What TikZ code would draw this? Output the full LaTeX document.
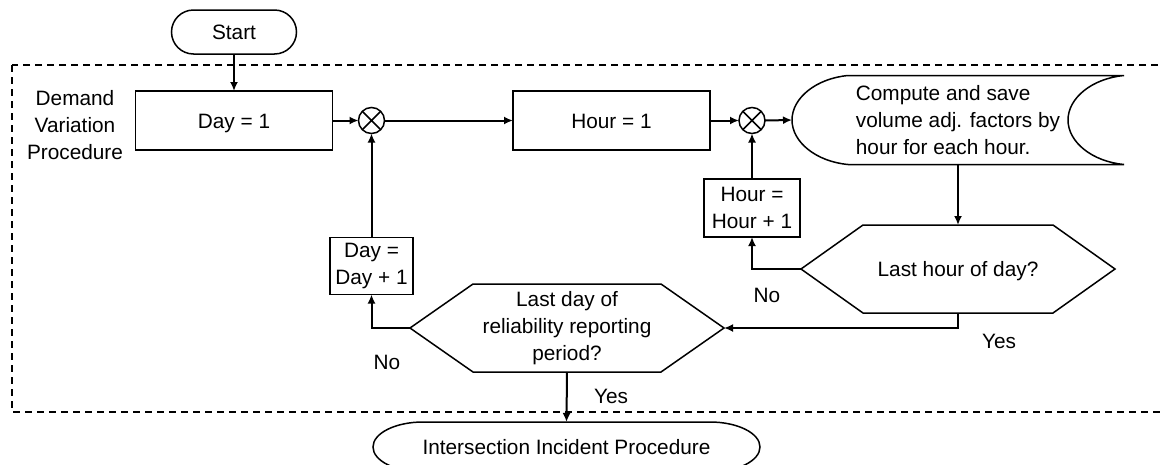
\documentclass[tikz,border=0pt]{standalone}
\usepackage{fontspec}
\setmainfont{Liberation Sans}
\usetikzlibrary{arrows.meta,calc}
\begin{document}
\begin{tikzpicture}[x=1pt,y=-1pt,
  every node/.style={font=\fontsize{20.8pt}{27pt}\selectfont, outer sep=0pt, inner sep=0pt},
  oneline/.style={text height=15pt, text depth=0pt},
  shapeline/.style={line width=1.5pt, line join=miter},
  stepbox/.style={draw, shapeline, rectangle, align=center},
  flow/.style={line width=2pt, -{Latex[length=9pt,width=8pt]}},
  joinpt/.style={draw, shapeline, circle, minimum size=26pt,
    path picture={\draw[shapeline]
      (path picture bounding box.north west) -- (path picture bounding box.south east)
      (path picture bounding box.north east) -- (path picture bounding box.south west);}},
  frame/.style={line width=1.5pt, dash pattern=on 7pt off 5pt}
]
\useasboundingbox (0,0) rectangle (1163,464);

% dashed frame of the demand variation procedure
\draw[frame] (12,65) rectangle (1180,412);

% terminals and process boxes
\node[stepbox, oneline, rounded corners=22pt, minimum width=125pt, minimum height=44pt] (start) at (234,32) {Start};
\node[stepbox, oneline, minimum width=197pt, minimum height=59pt] (day1) at (234,120.5) {Day = 1};
\node[align=center] (dvp) at (75,125) {Demand\\Variation\\Procedure};
\node[joinpt] (c1) at (371.5,120.5) {};
\node[stepbox, oneline, minimum width=197pt, minimum height=59pt] (hour1) at (611.5,120.5) {Hour = 1};
\node[joinpt] (c2) at (752,120.5) {};

% stored data shape
\node[align=left, minimum width=332pt, minimum height=89pt] (cmp) at (958,120)
  {Compute and save\\volume adj. factors by\\hour for each hour.};
\draw[shapeline] ($(cmp.north west)+(56,0)$)
  .. controls ($(cmp.north west)+(24,3)$) and ($(cmp.west)+(0,-22)$) .. (cmp.west)
  .. controls ($(cmp.west)+(0,22)$) and ($(cmp.south west)+(24,-3)$) .. ($(cmp.south west)+(56,0)$)
  -- (cmp.south east)
  .. controls ($(cmp.south east)+(-32,-3)$) and ($(cmp.east)+(-56,22)$) .. ($(cmp.east)+(-56,0)$)
  .. controls ($(cmp.east)+(-56,-22)$) and ($(cmp.north east)+(-32,3)$) .. (cmp.north east)
  -- cycle;

% counters
\node[stepbox, minimum width=96pt, minimum height=58pt] (hinc) at (752,208) {Hour =\\Hour + 1};
\node[stepbox, minimum width=83pt, minimum height=57pt] (dinc) at (371.5,266) {Day =\\Day + 1};

% decisions
\node[align=center, oneline, minimum width=314pt, minimum height=88pt] (h1) at (958,269) {Last hour of day?};
\draw[shapeline] (h1.west) -- ($(h1.north west)+(62,0)$) -- ($(h1.north east)+(-62,0)$) -- (h1.east)
  -- ($(h1.south east)+(-62,0)$) -- ($(h1.south west)+(62,0)$) -- cycle;
\node[align=center, minimum width=314pt, minimum height=88pt] (h2) at (567,328)
  {Last day of\\reliability reporting\\period?};
\draw[shapeline] (h2.west) -- ($(h2.north west)+(63,0)$) -- ($(h2.north east)+(-63,0)$) -- (h2.east)
  -- ($(h2.south east)+(-63,0)$) -- ($(h2.south west)+(63,0)$) -- cycle;

% exit terminal
\node[oneline, minimum width=387pt, minimum height=50pt] (finish) at (566.5,447) {Intersection Incident Procedure};
\draw[shapeline] ($(finish.north west)+(50,0)$) -- ($(finish.north east)+(-50,0)$)
  arc[start angle=90, end angle=-90, x radius=50pt, y radius=25pt]
  -- ($(finish.south west)+(50,0)$)
  arc[start angle=270, end angle=90, x radius=50pt, y radius=25pt] -- cycle;

% branch labels
\node[oneline] (no1) at (767,295) {No};
\node[oneline] (yes1) at (999,341) {Yes};
\node[oneline] (no2) at (387,362) {No};
\node[oneline] (yes2) at (611,396) {Yes};

% connectors
\draw[flow] (start.south) -- (day1.north);
\draw[flow] (day1.east) -- (c1.west);
\draw[flow] (c1.east) -- (hour1.west);
\draw[flow] (hour1.east) -- (c2.west);
\draw[flow] (c2.east) -- (cmp.west);
\draw[flow] (cmp.south) -- (h1.north);
\draw[flow] (h1.west) -| (hinc.south);
\draw[flow] (hinc.north) -- (c2.south);
\draw[flow] (h1.south) |- (h2.east);
\draw[flow] (h2.west) -| (dinc.south);
\draw[flow] (dinc.north) -- (c1.south);
\draw[flow] (h2.south) -- (finish.north);
\end{tikzpicture}
\end{document}
